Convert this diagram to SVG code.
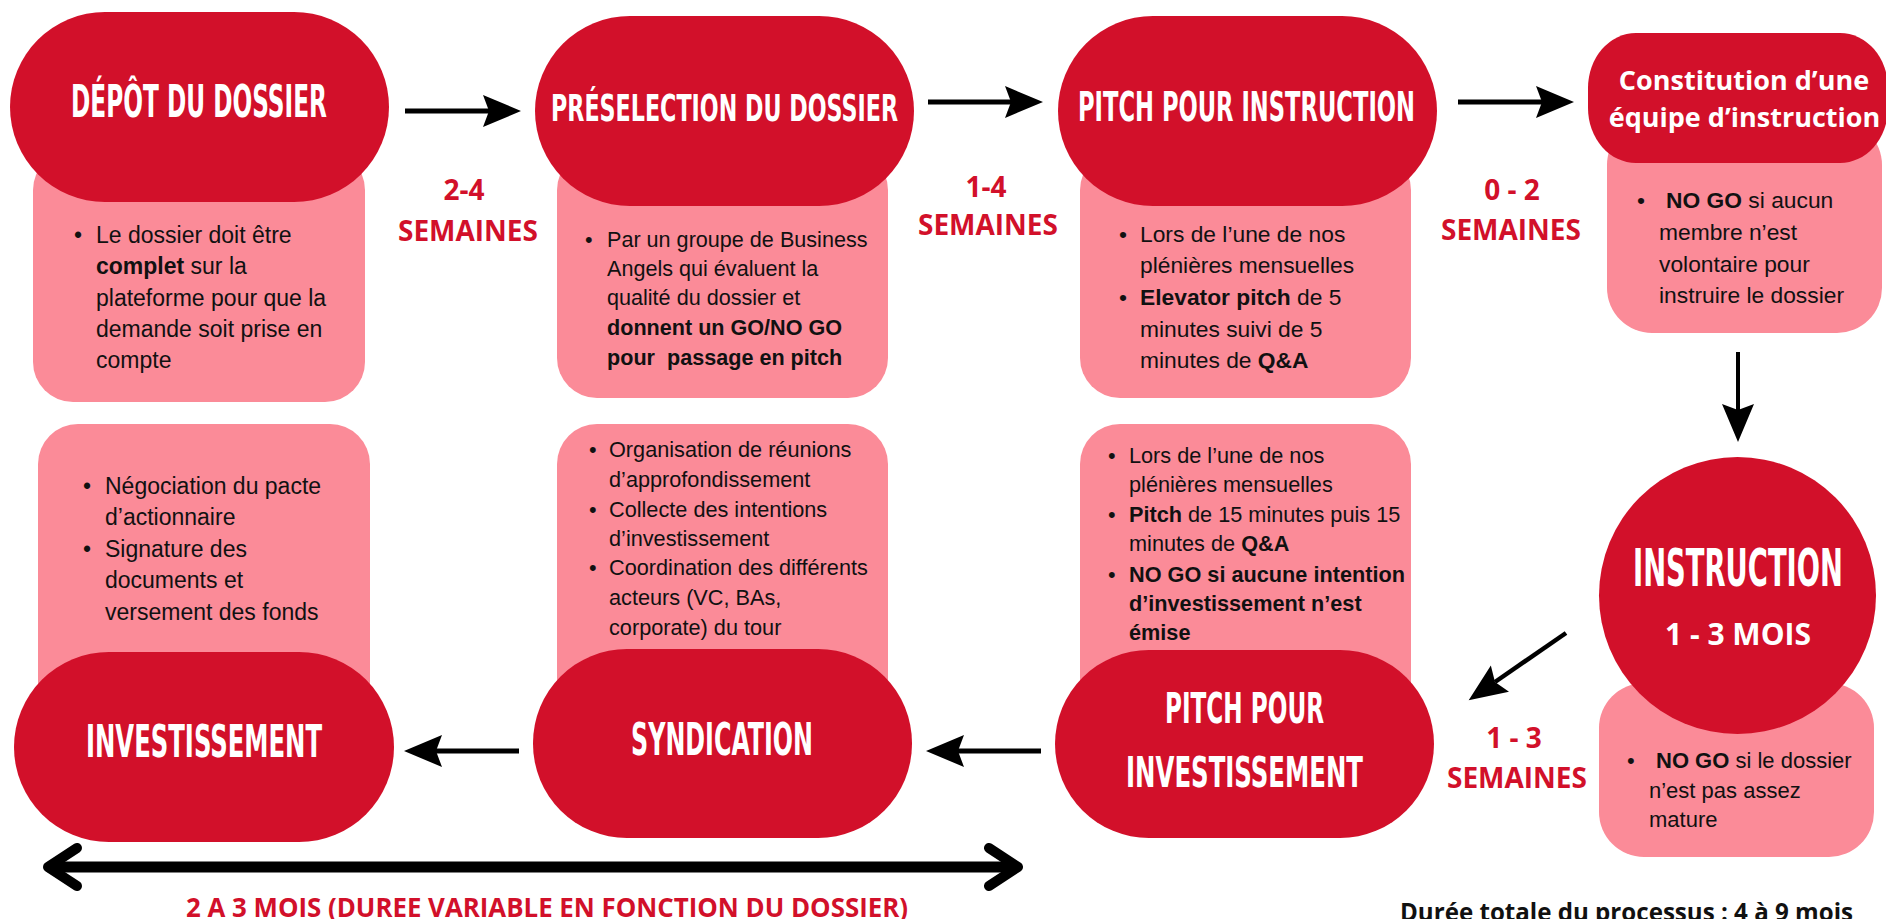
<svg xmlns="http://www.w3.org/2000/svg" width="1886" height="919" viewBox="0 0 1886 919">
<defs>
<style>
.pill{fill:#D2102A}
.pink{fill:#FB8B98}
.ttl{font-family:"DejaVu Sans Condensed","Liberation Sans Narrow","DejaVu Sans",sans-serif;font-weight:bold;fill:#fff;font-stretch:condensed}
.ob{font-family:"Open Sans","Liberation Sans",sans-serif;font-weight:bold}
.dur{font-family:"Open Sans","Liberation Sans",sans-serif;font-weight:bold;fill:#D2102A;font-size:28px;text-anchor:middle}
.bt{font-family:"Liberation Sans",Arial,sans-serif;fill:#111}
.b{font-weight:bold}
.conn{stroke:#000;fill:none}
</style>
<marker id="ah" markerUnits="userSpaceOnUse" markerWidth="40" markerHeight="34" refX="6" refY="16" orient="auto">
<path d="M0,0 L38,16 L0,32 L6,16 Z" fill="#000"/>
</marker>
</defs>
<rect width="1886" height="919" fill="#fff"/>

<g id="node-depot">
<rect class="pink" x="33" y="150" width="332" height="252" rx="40"/>
<rect class="pill" x="10" y="12" width="379" height="190" rx="95"/>
<text class="ttl" x="71" y="117" font-size="44" textLength="256" lengthAdjust="spacingAndGlyphs">DÉPÔT DU DOSSIER</text>
<g class="bt" font-size="23">
<text x="74" y="243">•</text>
<text x="96" y="243">Le dossier doit être</text>
<text x="96" y="274"><tspan class="b">complet</tspan> sur la</text>
<text x="96" y="306">plateforme pour que la</text>
<text x="96" y="337">demande soit prise en</text>
<text x="96" y="368">compte</text>
</g>
</g>

<g id="node-preselection">
<rect class="pink" x="557" y="150" width="331" height="248" rx="40"/>
<rect class="pill" x="535" y="16" width="379" height="190" rx="95"/>
<text class="ttl" x="551" y="121" font-size="38" textLength="347" lengthAdjust="spacingAndGlyphs">PRÉSELECTION DU DOSSIER</text>
<g class="bt" font-size="21.6">
<text x="585" y="247">•</text>
<text x="607" y="247">Par un groupe de Business</text>
<text x="607" y="276">Angels qui évaluent la</text>
<text x="607" y="305">qualité du dossier et</text>
<text x="607" y="335" class="b">donnent un GO/NO GO</text>
<text x="607" y="365" class="b" xml:space="preserve">pour  passage en pitch</text>
</g>
</g>

<g id="node-pitch-instruction">
<rect class="pink" x="1080" y="150" width="331" height="248" rx="40"/>
<rect class="pill" x="1058" y="16" width="379" height="190" rx="95"/>
<text class="ttl" x="1078" y="121" font-size="40" textLength="337" lengthAdjust="spacingAndGlyphs">PITCH POUR INSTRUCTION</text>
<g class="bt" font-size="22.8">
<text x="1119" y="242">•</text>
<text x="1140" y="242">Lors de l’une de nos</text>
<text x="1140" y="273">plénières mensuelles</text>
<text x="1119" y="305">•</text>
<text x="1140" y="305"><tspan class="b">Elevator pitch</tspan> de 5</text>
<text x="1140" y="337">minutes suivi de 5</text>
<text x="1140" y="368">minutes de <tspan class="b">Q&amp;A</tspan></text>
</g>
</g>

<g id="node-constitution">
<rect class="pink" x="1607" y="120" width="275" height="213" rx="45"/>
<rect class="pill" x="1588" y="33" width="300" height="130" rx="48" ry="55"/>
<text class="ob" fill="#fff" font-size="27" x="1744" y="90" text-anchor="middle">Constitution d’une</text>
<text class="ob" fill="#fff" font-size="27" x="1744.5" y="127" text-anchor="middle">équipe d’instruction</text>
<g class="bt" font-size="22.8">
<text x="1637" y="208">•</text>
<text x="1666" y="208"><tspan class="b">NO GO</tspan> si aucun</text>
<text x="1659" y="240">membre n’est</text>
<text x="1659" y="272">volontaire pour</text>
<text x="1659" y="303">instruire le dossier</text>
</g>
</g>

<g id="node-instruction">
<rect class="pink" x="1599" y="683" width="275" height="174" rx="45"/>
<circle class="pill" cx="1737.5" cy="595.5" r="138.5"/>
<text class="ttl" x="1633" y="586" font-size="52" textLength="210" lengthAdjust="spacingAndGlyphs">INSTRUCTION</text>
<text class="ob" fill="#fff" font-size="30" x="1738" y="645" text-anchor="middle">1 - 3 MOIS</text>
<g class="bt" font-size="22">
<text x="1627" y="768">•</text>
<text x="1656" y="768"><tspan class="b">NO GO</tspan> si le dossier</text>
<text x="1649" y="798">n’est pas assez</text>
<text x="1649" y="827">mature</text>
</g>
</g>

<g id="node-pitch-investissement">
<rect class="pink" x="1080" y="424" width="331" height="300" rx="40"/>
<rect class="pill" x="1055" y="650" width="379" height="188" rx="94"/>
<text class="ttl" x="1165" y="723" font-size="43" textLength="159" lengthAdjust="spacingAndGlyphs">PITCH POUR</text>
<text class="ttl" x="1126" y="787" font-size="43" textLength="237" lengthAdjust="spacingAndGlyphs">INVESTISSEMENT</text>
<g class="bt" font-size="21.7">
<text x="1108" y="463">•</text>
<text x="1129" y="463">Lors de l’une de nos</text>
<text x="1129" y="492">plénières mensuelles</text>
<text x="1108" y="522">•</text>
<text x="1129" y="522"><tspan class="b">Pitch</tspan> de 15 minutes puis 15</text>
<text x="1129" y="551">minutes de <tspan class="b">Q&amp;A</tspan></text>
<text x="1108" y="582">•</text>
<text x="1129" y="582" class="b">NO GO si aucune intention</text>
<text x="1129" y="611" class="b">d’investissement n’est</text>
<text x="1129" y="640" class="b">émise</text>
</g>
</g>

<g id="node-syndication">
<rect class="pink" x="557" y="424" width="331" height="300" rx="40"/>
<rect class="pill" x="533" y="649" width="379" height="189" rx="94"/>
<text class="ttl" x="631" y="755" font-size="44" textLength="182" lengthAdjust="spacingAndGlyphs">SYNDICATION</text>
<g class="bt" font-size="21.7">
<text x="589" y="457">•</text>
<text x="609" y="457">Organisation de réunions</text>
<text x="609" y="487">d’approfondissement</text>
<text x="589" y="517">•</text>
<text x="609" y="517">Collecte des intentions</text>
<text x="609" y="546">d’investissement</text>
<text x="589" y="575">•</text>
<text x="609" y="575">Coordination des différents</text>
<text x="609" y="605">acteurs (VC, BAs,</text>
<text x="609" y="635">corporate) du tour</text>
</g>
</g>

<g id="node-investissement">
<rect class="pink" x="38" y="424" width="332" height="300" rx="40"/>
<rect class="pill" x="14" y="652" width="380" height="190" rx="95"/>
<text class="ttl" x="86" y="757" font-size="44" textLength="236" lengthAdjust="spacingAndGlyphs">INVESTISSEMENT</text>
<g class="bt" font-size="23">
<text x="83" y="494">•</text>
<text x="105" y="494">Négociation du pacte</text>
<text x="105" y="525">d’actionnaire</text>
<text x="83" y="557">•</text>
<text x="105" y="557">Signature des</text>
<text x="105" y="588">documents et</text>
<text x="105" y="620">versement des fonds</text>
</g>
</g>

<g id="connectors" class="conn">
<line x1="405" y1="111" x2="489" y2="111" stroke-width="5" marker-end="url(#ah)"/>
<line x1="928" y1="102" x2="1011" y2="102" stroke-width="5" marker-end="url(#ah)"/>
<line x1="1458" y1="102" x2="1542" y2="102" stroke-width="5" marker-end="url(#ah)"/>
<line x1="1738" y1="352" x2="1738" y2="410" stroke-width="4" marker-end="url(#ah)"/>
<line x1="1566" y1="633" x2="1495" y2="682" stroke-width="4.5" marker-end="url(#ah)"/>
<line x1="1041" y1="751" x2="958" y2="751" stroke-width="5" marker-end="url(#ah)"/>
<line x1="519" y1="751" x2="436" y2="751" stroke-width="5" marker-end="url(#ah)"/>
<g stroke-width="10" stroke-linecap="round" stroke-linejoin="round">
<line x1="50" y1="867" x2="1015" y2="867" stroke-width="11"/>
<polyline points="77,848 48,867 77,886"/>
<polyline points="989,848 1018,867 989,886"/>
</g>
</g>

<g id="labels">
<text class="dur" x="464" y="200">2-4</text>
<text class="dur" x="468" y="241">SEMAINES</text>
<text class="dur" x="986" y="197">1-4</text>
<text class="dur" x="988" y="235">SEMAINES</text>
<text class="dur" x="1512" y="200">0 - 2</text>
<text class="dur" x="1511" y="240">SEMAINES</text>
<text class="dur" x="1514" y="748">1 - 3</text>
<text class="dur" x="1517" y="788">SEMAINES</text>
<text class="ob" fill="#D2102A" font-size="26" x="186" y="917" textLength="722" lengthAdjust="spacingAndGlyphs">2 A 3 MOIS (DUREE VARIABLE EN FONCTION DU DOSSIER)</text>
<text class="ob" fill="#111" font-size="24.5" x="1400" y="921" textLength="453" lengthAdjust="spacingAndGlyphs">Durée totale du processus : 4 à 9 mois</text>
</g>
</svg>
